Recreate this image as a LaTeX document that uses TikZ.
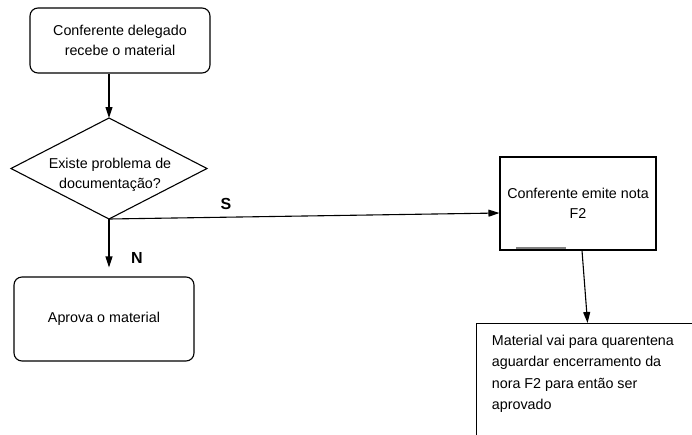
\documentclass[tikz,border=0pt]{standalone}
\usepackage{fontspec}
\setmainfont{Liberation Sans}
\usetikzlibrary{arrows.meta,shapes.geometric}

\begin{document}
\begin{tikzpicture}
	[x=1pt,y=-1pt,->,>={Triangle[length=11pt,width=7pt]},line width=1.1pt,
		font=\fontsize{14.3}{20.5}\selectfont,
		step node/.style={rectangle,rounded corners=8pt,draw,minimum width=180pt},
		plain node/.style={rectangle,draw,minimum width=156pt,minimum height=93pt},
		ask node/.style={diamond,draw,minimum width=196pt,minimum height=101pt,inner sep=0pt,outer sep=0pt},
		tag/.style={font=\fontsize{16}{18}\selectfont\bfseries}]

	\useasboundingbox (0,0) rectangle (692,434);
	\clip (0,0) rectangle (692,434);

	\node[step node, minimum height=65pt, align=center] (R) at (120,40.5) {Conferente delegado\\recebe o material};
	\node[ask node] (P) at (109,168.5) {};
	\node[align=center] (Pt) at (110,175) {Existe problema de\\documentação?};
	\node[step node, minimum height=84pt] (A) at (104,319) {Aprova o material};
	\node[plain node, align=center] (F) at (578,203.5) {Conferente emite nota\\F2};
	\node[rectangle,draw,minimum width=244pt,minimum height=140pt,anchor=north west] (Q) at (476,323) {};
	\node[anchor=north west, align=left, font=\fontsize{14.3}{21.5}\selectfont] (Qt) at (488,331) {Material vai para quarentena\\aguardar encerramento da\\nora F2 para então ser\\aprovado};

	\path[]
	(R.south -| P.north) edge (P.north)
	(P.south) edge [shorten >=9pt] (P.south |- A.north)
	(P.south) edge ([yshift=-9.5pt]F.west)
	([xshift=4pt]F.south) edge ([xshift=-11pt]Q.north)
	;

	\draw[-,gray,line width=1.6pt] (516,248) -- (566,248);

	\node[tag] (N) at (137,258) {N};
	\node[tag] (S) at (226,204) {S};

\end{tikzpicture}
\end{document}
